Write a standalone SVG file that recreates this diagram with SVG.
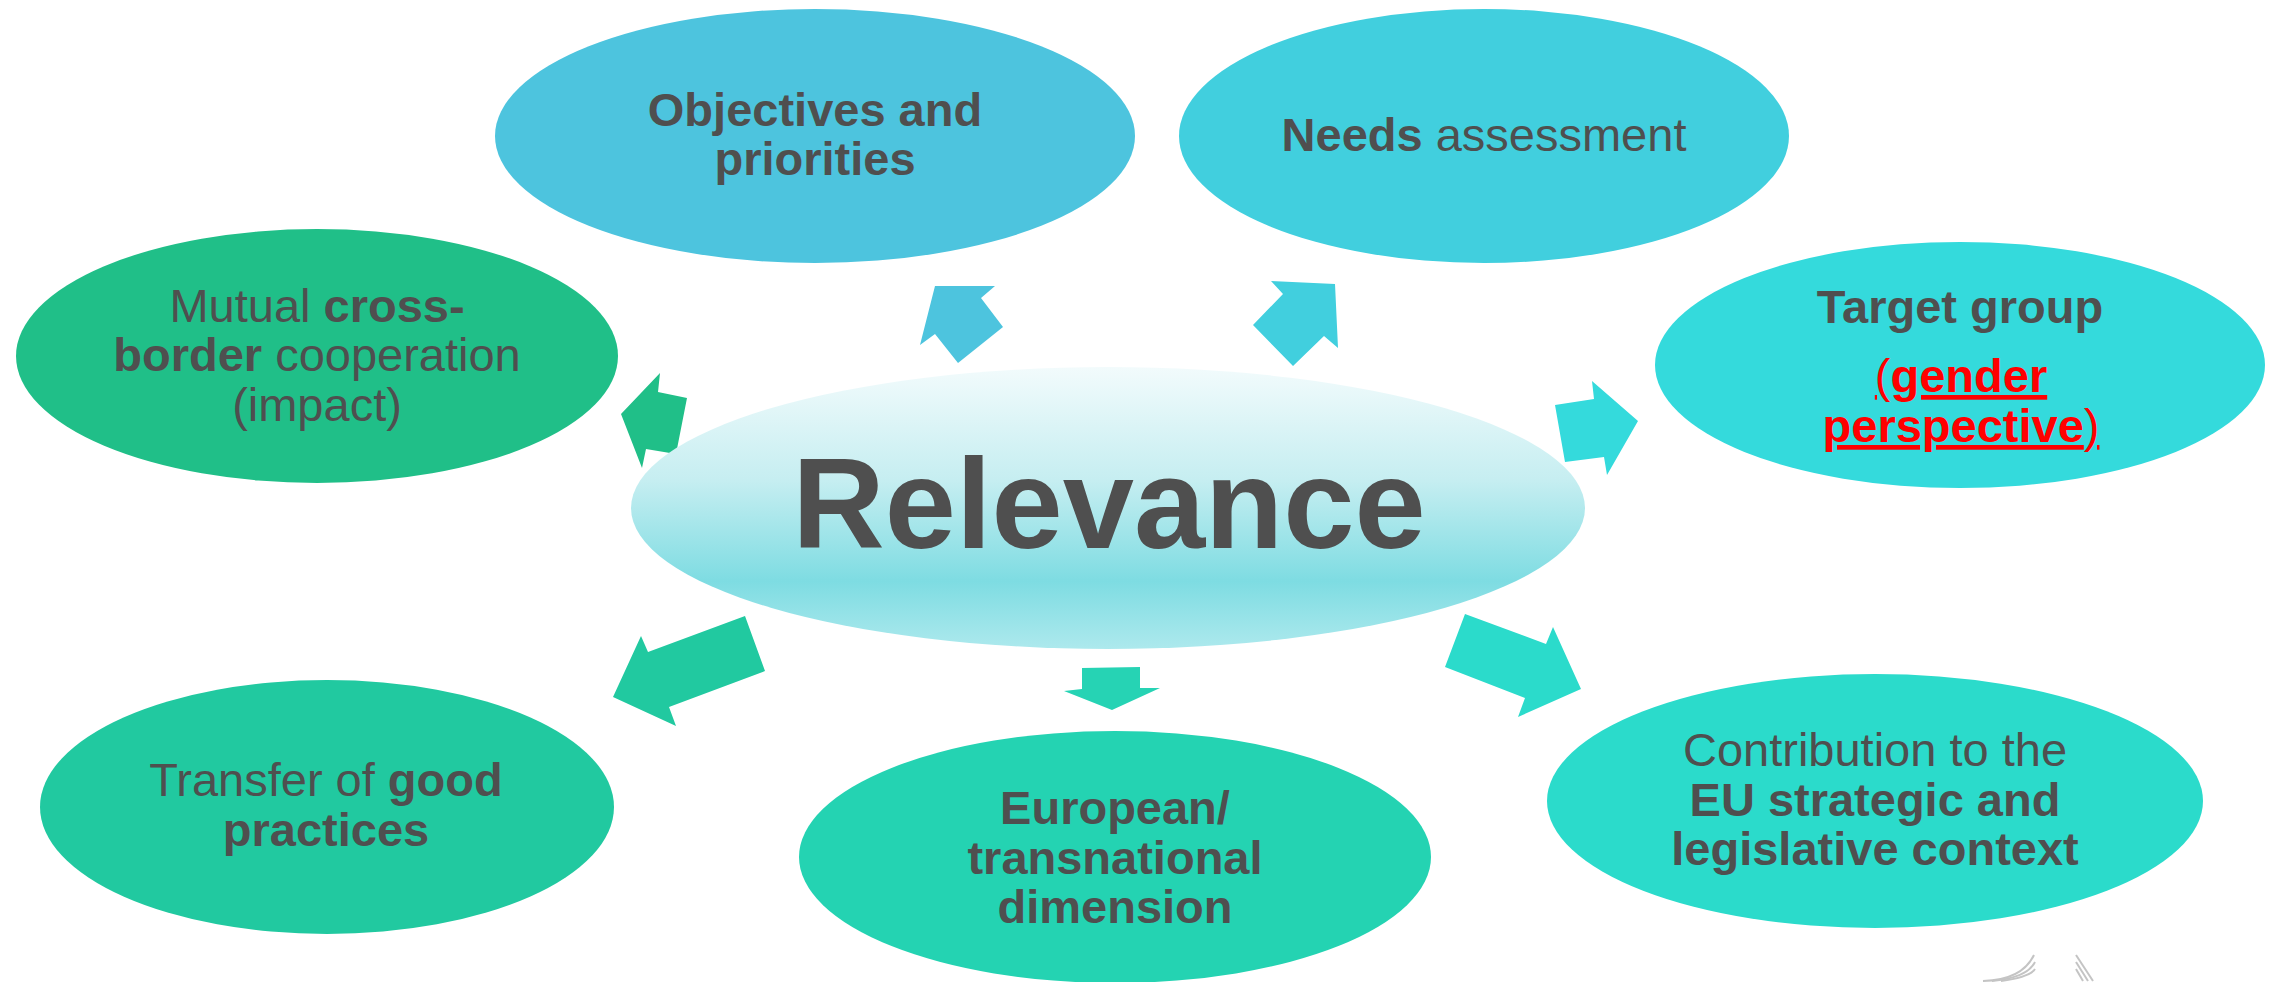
<svg xmlns="http://www.w3.org/2000/svg" width="2277" height="982" viewBox="0 0 2277 982">
<defs>
<linearGradient id="relGrad" x1="0" y1="0" x2="0" y2="1">
<stop offset="0" stop-color="#F2FBFC"/>
<stop offset="0.4" stop-color="#C6EEF1"/>
<stop offset="0.76" stop-color="#7EDCE2"/>
<stop offset="1" stop-color="#ADE9ED"/>
</linearGradient>
</defs>
<style>
text{font-family:"Liberation Sans",Arial,sans-serif;font-size:47px;fill:#4F4F4F;text-anchor:middle}
.b{font-weight:bold}
.r{font-weight:normal}
.red{fill:#FF0000;text-decoration:underline}
.logo{fill:none;stroke:#C4C4C4;stroke-width:2}
</style>
<rect width="2277" height="982" fill="#FFFFFF"/>

<g id="connectors">
<polygon fill="#4DC4DE" points="935,286 995,286 981,298 1003,327 958,363 935,334 920,345"/>
<polygon fill="#41CFDE" points="1271,281 1335,284 1338,348 1324,336 1293,366 1253,325 1283,294"/>
<polygon fill="#34DADC" points="1555,405 1594,399 1592,381 1638,421 1607,475 1604,457 1565,462"/>
<polygon fill="#20BF88" points="660,373 658,392 687,398 676,454 646,449 642,468 621,414"/>
<polygon fill="#21C9A0" points="745,616 765,671 669,707 676,726 613,697 641,636 648,652"/>
<polygon fill="#26D3B4" points="1082,668 1140,667 1140,688 1160,688 1112,710 1064,691 1082,689"/>
<polygon fill="#2BDBCB" points="1465,614 1546,644 1553,627 1581,689 1518,717 1525,698 1445,667"/>
</g>

<g id="node-objectives">
<ellipse cx="815" cy="136" rx="320" ry="127" fill="#4DC4DE"/>
<text x="815" y="126" class="b">Objectives and</text>
<text x="815" y="175" class="b">priorities</text>
</g>

<g id="node-needs">
<ellipse cx="1484" cy="136" rx="305" ry="127" fill="#41CFDE"/>
<text x="1484" y="151"><tspan class="b">Needs</tspan> assessment</text>
</g>

<g id="node-target">
<ellipse cx="1960" cy="365" rx="305" ry="123" fill="#34DADC"/>
<text x="1960" y="323" class="b">Target group</text>
<text x="1961" y="392" class="red"><tspan class="r">(</tspan><tspan class="b">gender</tspan></text>
<text x="1961" y="442" class="red"><tspan class="b">perspective</tspan><tspan class="r">)</tspan></text>
</g>

<g id="node-mutual">
<ellipse cx="317" cy="356" rx="301" ry="127" fill="#20BF88"/>
<text x="317" y="322">Mutual <tspan class="b">cross-</tspan></text>
<text x="317" y="371"><tspan class="b">border</tspan> cooperation</text>
<text x="317" y="421">(impact)</text>
</g>

<g id="node-relevance">
<ellipse cx="1108" cy="508" rx="477" ry="141" fill="url(#relGrad)"/>
<text x="1109" y="548" class="b" style="font-size:128px">Relevance</text>
</g>

<g id="node-transfer">
<ellipse cx="327" cy="807" rx="287" ry="127" fill="#21C9A0"/>
<text x="326" y="796">Transfer of <tspan class="b">good</tspan></text>
<text x="326" y="846" class="b">practices</text>
</g>

<g id="node-european">
<ellipse cx="1115" cy="857" rx="316" ry="126" fill="#24D3B2"/>
<text x="1115" y="824" class="b">European/</text>
<text x="1115" y="874" class="b">transnational</text>
<text x="1115" y="923" class="b">dimension</text>
</g>

<g id="node-contribution">
<ellipse cx="1875" cy="801" rx="328" ry="127" fill="#2BDBCB"/>
<text x="1875" y="766">Contribution to the</text>
<text x="1875" y="816" class="b">EU strategic and</text>
<text x="1875" y="865" class="b">legislative context</text>
</g>

<g id="logo-fragment">
<path class="logo" d="M1983,981 Q2022,980 2034,955"/>
<path class="logo" d="M1992,981 Q2027,978 2035,962"/>
<path class="logo" d="M2001,981 Q2030,977 2035,969"/>
<path class="logo" d="M2076,955 L2093,981"/>
<path class="logo" d="M2076,962 L2088,981"/>
<path class="logo" d="M2076,969 L2083,981"/>
</g>
</svg>
